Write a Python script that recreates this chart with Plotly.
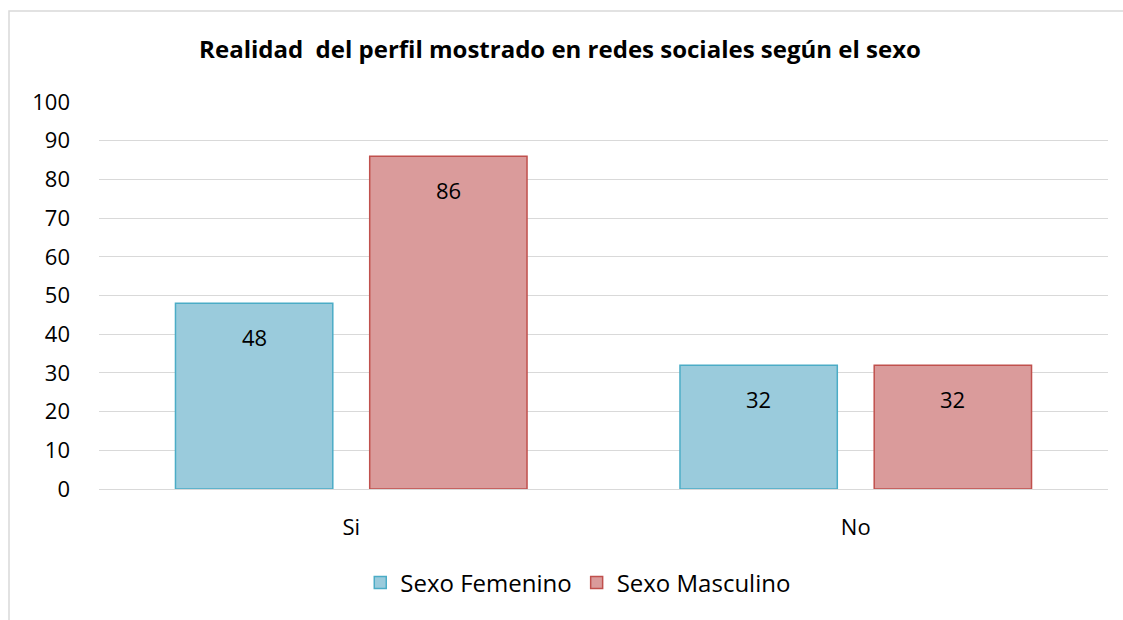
import plotly.graph_objects as go

categories = ["Si", "No"]
femenino = [48, 32]
masculino = [86, 32]
y_ticks = [0, 10, 20, 30, 40, 50, 60, 70, 80, 90, 100]

FONT = "Open Sans, sans-serif"
SLOT_PX = 97  # half slot offset of grouped bars in pixels

fig = go.Figure()
fig.add_trace(go.Bar(
    name="Sexo Femenino", x=categories, y=femenino,
    marker=dict(color="#9acbdc", line=dict(color="#4bacc6", width=1.5)),
))
fig.add_trace(go.Bar(
    name="Sexo Masculino", x=categories, y=masculino,
    marker=dict(color="#da9b9b", line=dict(color="#c0504d", width=1.5)),
))

for series, shift in ((femenino, -SLOT_PX), (masculino, SLOT_PX)):
    for cat, val in zip(categories, series):
        fig.add_annotation(x=cat, y=val, text=str(val), showarrow=False,
                           xshift=shift, yshift=-34, yanchor="middle",
                           font=dict(family=FONT, size=22, color="#000000"))

fig.update_layout(
    width=1123, height=620,
    paper_bgcolor="white", plot_bgcolor="white",
    margin=dict(l=99, r=15, t=102, b=131, pad=0),
    barmode="group", bargap=0.23, bargroupgap=0.19,
    font=dict(family=FONT, size=22, color="#000000"),
    title=dict(text="<b>Realidad  del perfil mostrado en redes sociales según el sexo</b>",
               x=560 / 1123, xanchor="center", xref="container",
               y=1 - 50 / 620, yanchor="middle",
               font=dict(family=FONT, size=24, color="#000000")),
    xaxis=dict(showline=False, showgrid=False, ticks="", ticklabelstandoff=23,
               tickfont=dict(family=FONT, size=22)),
    yaxis=dict(range=[0, 100], tickvals=y_ticks, showgrid=True, gridcolor="#d9d9d9",
               gridwidth=1, zeroline=True, zerolinecolor="#d9d9d9", zerolinewidth=1,
               showline=False, ticks="", ticklabelstandoff=28,
               tickfont=dict(family=FONT, size=22)),
    legend=dict(orientation="h", x=0.475, xanchor="center", y=-(583 - 489) / 387,
                yanchor="middle", font=dict(family=FONT, size=24), traceorder="normal"),
)
fig.add_shape(type="rect", xref="paper", yref="paper",
              x0=(9 - 99) / 1009, x1=1.1, y0=-0.6, y1=(489 - 11) / 387,
              line=dict(color="#d9d9d9", width=1.5), fillcolor="rgba(0,0,0,0)", layer="below")

fig.write_html("out.html", config={"displayModeBar": False},
               post_script="document.body.style.margin='0';document.body.style.overflow='hidden';")
